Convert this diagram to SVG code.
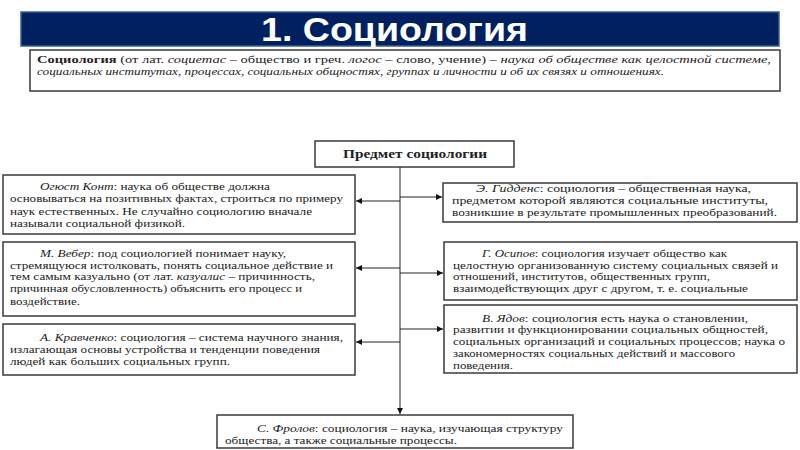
<svg xmlns="http://www.w3.org/2000/svg" width="800" height="450" viewBox="0 0 800 450">
<style>
.box{fill:#fff;stroke:#3a3a3a;stroke-width:1.5}
.t{font-family:"Liberation Serif","Times New Roman",serif;font-size:11px;fill:#222}
.d{font-family:"Liberation Serif","Times New Roman",serif;font-size:10.5px;fill:#222}
.i{font-style:italic}
.b{font-weight:bold}
.ln{stroke:#222;stroke-width:1;fill:none}
</style>
<defs>
<marker id="ah" viewBox="0 0 6 6" refX="6" refY="3" markerWidth="6" markerHeight="6" markerUnits="userSpaceOnUse" orient="auto">
<path d="M0,0 L6,3 L0,6 z" fill="#111"/>
</marker>
</defs>
<rect width="800" height="450" fill="#fff"/>
<g id="title">
<rect x="21" y="12" width="758" height="34" fill="#002060" stroke="#3d5f95" stroke-width="1.5"/>
<text x="261" y="41" textLength="267" lengthAdjust="spacingAndGlyphs" font-family="'Liberation Sans',Arial,sans-serif" font-weight="bold" font-size="34" fill="#fff">1. Социология</text>
</g>
<g id="definition">
<rect class="box" x="30" y="50" width="750" height="41"/>
<text class="d" x="37" y="62.5" textLength="734" lengthAdjust="spacingAndGlyphs"><tspan class="b">Социология</tspan> (от лат. <tspan class="i">социетас</tspan> – общество и греч. <tspan class="i">логос</tspan> – слово, учение) – <tspan class="i">наука об обществе как целостной системе,</tspan></text>
<text class="d i" x="37" y="74.5" textLength="627" lengthAdjust="spacingAndGlyphs">социальных институтах, процессах, социальных общностях, группах и личности и об их связях и отношениях.</text>
</g>
<g id="subject">
<rect class="box" x="315" y="141" width="199" height="26"/>
<text x="343" y="158" textLength="144" lengthAdjust="spacingAndGlyphs" font-family="'Liberation Serif','Times New Roman',serif" font-weight="bold" font-size="12" fill="#222">Предмет социологии</text>
</g>
<g id="connectors">
<line class="ln" x1="400" y1="167" x2="400" y2="414" marker-end="url(#ah)"/>
<line class="ln" x1="400" y1="201" x2="356" y2="201" marker-end="url(#ah)"/>
<line class="ln" x1="400" y1="268" x2="356" y2="268" marker-end="url(#ah)"/>
<line class="ln" x1="400" y1="342" x2="356" y2="342" marker-end="url(#ah)"/>
<line class="ln" x1="400" y1="197" x2="442" y2="197" marker-end="url(#ah)"/>
<line class="ln" x1="400" y1="273" x2="443" y2="273" marker-end="url(#ah)"/>
<line class="ln" x1="400" y1="329" x2="443" y2="329" marker-end="url(#ah)"/>
</g>
<g id="comte">
<rect class="box" x="3" y="175" width="352" height="59"/>
<text class="t" x="40" y="190" textLength="230" lengthAdjust="spacingAndGlyphs"><tspan class="i">Огюст Конт</tspan>: наука об обществе должна</text>
<text class="t" x="10" y="202" textLength="333" lengthAdjust="spacingAndGlyphs">основываться на позитивных фактах, строиться по примеру</text>
<text class="t" x="10" y="214.5" textLength="302" lengthAdjust="spacingAndGlyphs">наук естественных. Не случайно социологию вначале</text>
<text class="t" x="10" y="227" textLength="175" lengthAdjust="spacingAndGlyphs">называли социальной физикой.</text>
</g>
<g id="weber">
<rect class="box" x="3" y="242" width="352" height="74"/>
<text class="t" x="40" y="257" textLength="246" lengthAdjust="spacingAndGlyphs"><tspan class="i">М. Вебер</tspan>: под социологией понимает науку,</text>
<text class="t" x="10" y="268.5" textLength="323" lengthAdjust="spacingAndGlyphs">стремящуюся истолковать, понять социальное действие и</text>
<text class="t" x="10" y="280" textLength="305" lengthAdjust="spacingAndGlyphs">тем самым казуально (от лат. <tspan class="i">казуалис</tspan> – причинность,</text>
<text class="t" x="10" y="292" textLength="292" lengthAdjust="spacingAndGlyphs">причинная обусловленность) объяснить его процесс и</text>
<text class="t" x="10" y="305" textLength="70" lengthAdjust="spacingAndGlyphs">воздействие.</text>
</g>
<g id="kravchenko">
<rect class="box" x="3" y="324" width="352" height="51"/>
<text class="t" x="40" y="341" textLength="303" lengthAdjust="spacingAndGlyphs"><tspan class="i">А. Кравченко</tspan>: социология – система научного знания,</text>
<text class="t" x="10" y="353" textLength="310" lengthAdjust="spacingAndGlyphs">излагающая основы устройства и тенденции поведения</text>
<text class="t" x="10" y="365" textLength="220" lengthAdjust="spacingAndGlyphs">людей как больших социальных групп.</text>
</g>
<g id="giddens">
<rect class="box" x="443" y="183" width="354" height="39"/>
<text class="t" x="476" y="192" textLength="275" lengthAdjust="spacingAndGlyphs"><tspan class="i">Э. Гидденс</tspan>: социология – общественная наука,</text>
<text class="t" x="452" y="203.5" textLength="316" lengthAdjust="spacingAndGlyphs">предметом которой являются социальные институты,</text>
<text class="t" x="452" y="216" textLength="325" lengthAdjust="spacingAndGlyphs">возникшие в результате промышленных преобразований.</text>
</g>
<g id="osipov">
<rect class="box" x="444" y="242" width="353" height="58"/>
<text class="t" x="482" y="256.5" textLength="245" lengthAdjust="spacingAndGlyphs"><tspan class="i">Г. Осипов</tspan>: социология изучает общество как</text>
<text class="t" x="453" y="268.5" textLength="325" lengthAdjust="spacingAndGlyphs">целостную организованную систему социальных связей и</text>
<text class="t" x="453" y="280" textLength="257" lengthAdjust="spacingAndGlyphs">отношений, институтов, общественных групп,</text>
<text class="t" x="453" y="292" textLength="295" lengthAdjust="spacingAndGlyphs">взаимодействующих друг с другом, т. е. социальные</text>
</g>
<g id="yadov">
<rect class="box" x="444" y="305" width="353" height="68"/>
<text class="t" x="482" y="321.5" textLength="266" lengthAdjust="spacingAndGlyphs"><tspan class="i">В. Ядов</tspan>: социология есть наука о становлении,</text>
<text class="t" x="453" y="333" textLength="315" lengthAdjust="spacingAndGlyphs">развитии и функционировании социальных общностей,</text>
<text class="t" x="453" y="345" textLength="332" lengthAdjust="spacingAndGlyphs">социальных организаций и социальных процессов; наука о</text>
<text class="t" x="453" y="356.5" textLength="282" lengthAdjust="spacingAndGlyphs">закономерностях социальных действий и массового</text>
<text class="t" x="453" y="369" textLength="60" lengthAdjust="spacingAndGlyphs">поведения.</text>
</g>
<g id="frolov">
<rect class="box" x="217" y="415" width="356" height="33"/>
<text class="t" x="257" y="432" textLength="306" lengthAdjust="spacingAndGlyphs"><tspan class="i">С. Фролов</tspan>: социология – наука, изучающая структуру</text>
<text class="t" x="225" y="444" textLength="232" lengthAdjust="spacingAndGlyphs">общества, а также социальные процессы.</text>
</g>
</svg>
